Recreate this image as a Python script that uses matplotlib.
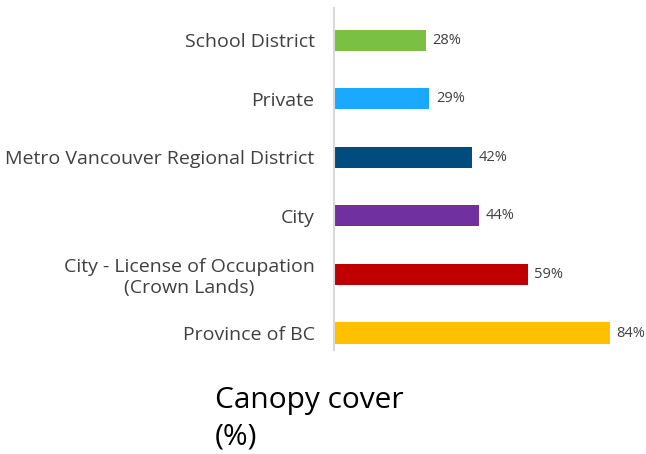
import matplotlib
matplotlib.use("Agg")
import matplotlib.pyplot as plt

## data
categories = ["Province of BC", "City - License of Occupation\n(Crown Lands)", "City",
              "Metro Vancouver Regional District", "Private", "School District"]
values = [84, 59, 44, 42, 29, 28]
colors = ["#FFC000", "#C00000", "#7030A0", "#004C7E", "#1AA9FF", "#7AC043"]

plt.rcParams["font.family"] = ["Open Sans", "DejaVu Sans"]

fig = plt.figure(figsize=(6.46, 4.54), dpi=100)
ax = fig.add_axes([334 / 646, 1 - 350 / 454, (610 - 334) / 646, 342 / 454])

ypos = list(range(len(categories)))
ax.barh(ypos, values, height=0.36, color=colors)
ax.set_xlim(0, 84)
ax.set_ylim(-0.29, 5.55)

for y, v in zip(ypos, values):
    ax.text(v + 2, y, "{}%".format(v), va="center", ha="left", fontsize=10.5,
            color="#404040", clip_on=False)

ax.set_yticks(ypos)
ax.set_yticklabels(categories, fontsize=14, color="#404040", ha="right",
                   multialignment="center")
ax.tick_params(axis="y", length=0, pad=14)
ax.set_xticks([])
for side in ["top", "right", "bottom"]:
    ax.spines[side].set_visible(False)
ax.spines["left"].set_color("#D9D9D9")
ax.spines["left"].set_linewidth(1.5)

fig.text(215 / 646, 1 - 444 / 454, "Canopy cover\n(%)", fontsize=21.5, color="black",
         ha="left", va="baseline", linespacing=1.3)

fig.savefig("out.png", dpi=100)
